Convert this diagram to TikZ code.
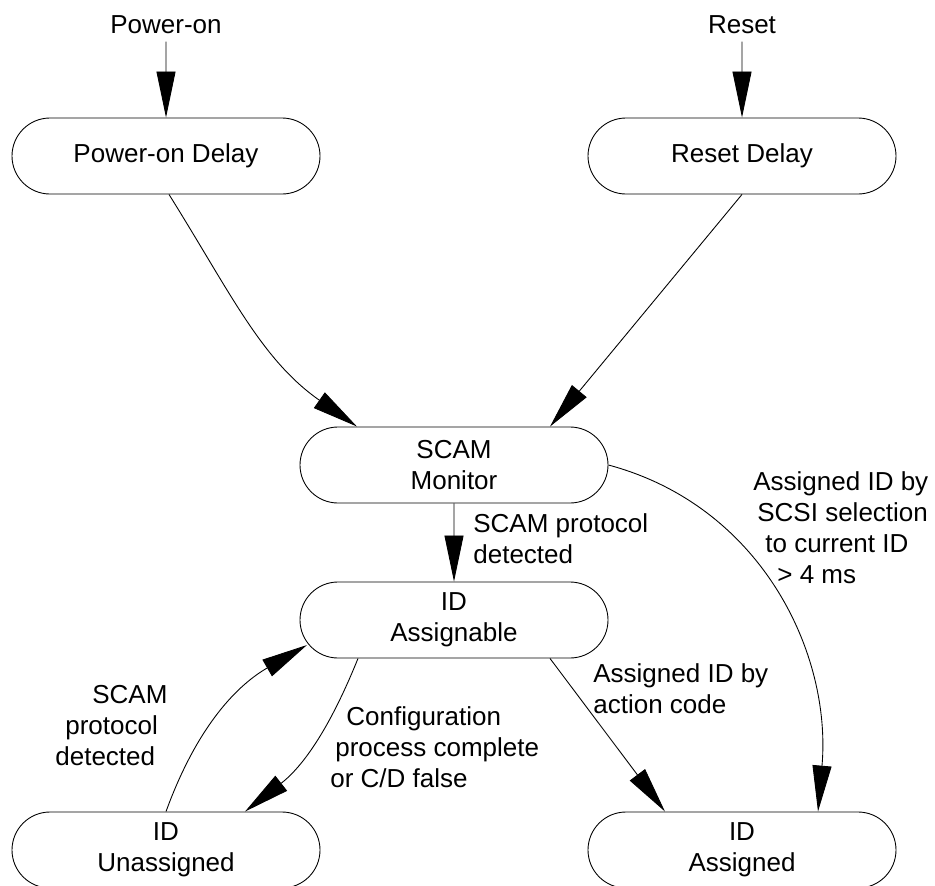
\documentclass[tikz,border=0pt]{standalone}
\usepackage{fontspec}
\setmainfont{Liberation Sans}
\usetikzlibrary{arrows.meta,shapes.misc}

\begin{document}
\begin{tikzpicture}[
  font=\fontsize{14.8}{17.6}\selectfont,
  state/.style={draw, line width=0.5pt, rounded rectangle, minimum width=6.16cm, minimum height=1.52cm, align=center, inner sep=0pt},
  event/.style={inner sep=4.5pt},
  lbl/.style={inner sep=0pt, align=left},
  trans/.style={line width=0.5pt, -{Triangle[length=9.2mm,width=3.8mm]}}
]
\useasboundingbox (0,0) rectangle (18.70,-17.72);
% states
\node[state] (pod) at (3.32,-3.12) {Power-on Delay};
\node[state] (rsd) at (14.84,-3.12) {Reset Delay};
\node[state] (mon) at (9.08,-9.30) {SCAM\\Monitor};
\node[state] (asg) at (9.08,-12.40) {ID\\Assignable};
\node[state] (una) at (3.32,-17.00) {ID\\Unassigned};
\node[state] (asd) at (14.84,-17.00) {ID\\Assigned};
% events
\node[event, anchor=base] (pwr) at (3.32,-0.66) {Power-on};
\node[event, anchor=base] (rst) at (14.84,-0.66) {Reset};
% transitions
\draw[trans] (pwr) -- (pod);
\draw[trans] (rst) -- (rsd);
\draw[trans] ([xshift=0.06cm]pod.south) to[out=-58, in=145] ([xshift=-1.94cm]mon.north);
\draw[trans] (rsd.south) -- ([xshift=1.92cm]mon.north);
\draw[trans] (mon) -- (asg);
\draw[trans] (mon.east) to[out=-15, in=85] ([xshift=1.52cm]asd.north);
\draw[trans] ([xshift=1.92cm]asg.south) -- ([xshift=-1.54cm]asd.north);
\draw[trans] ([xshift=-1.92cm]asg.south) to[out=-112, in=38] ([xshift=1.58cm]una.north);
\draw[trans] (una.north) to[out=70, in=210] ([shift={(-2.94,-0.5)}]asg.center);
% conditions (base = last line)
\node[lbl, anchor=base west] (detmon) at (9.46,-11.26) {SCAM protocol\\detected};
\node[lbl, anchor=base west] (selid) at (15.06,-11.66) {Assigned ID by\\\hspace*{0.08cm}SCSI selection\\\hspace*{0.24cm}to current ID\\\hspace*{0.48cm}> 4 ms};
\node[lbl, anchor=base west] (actid) at (11.86,-14.26) {Assigned ID by\\action code};
\node[lbl, anchor=base west] (cfgdone) at (6.60,-15.74) {\hspace*{0.32cm}Configuration\\\hspace*{0.1cm}process complete\\or C/D false};
\node[lbl, anchor=base west] (detuna) at (1.10,-15.30) {\hspace*{0.74cm}SCAM\\\hspace*{0.2cm}protocol\\detected};
\end{tikzpicture}
\end{document}
